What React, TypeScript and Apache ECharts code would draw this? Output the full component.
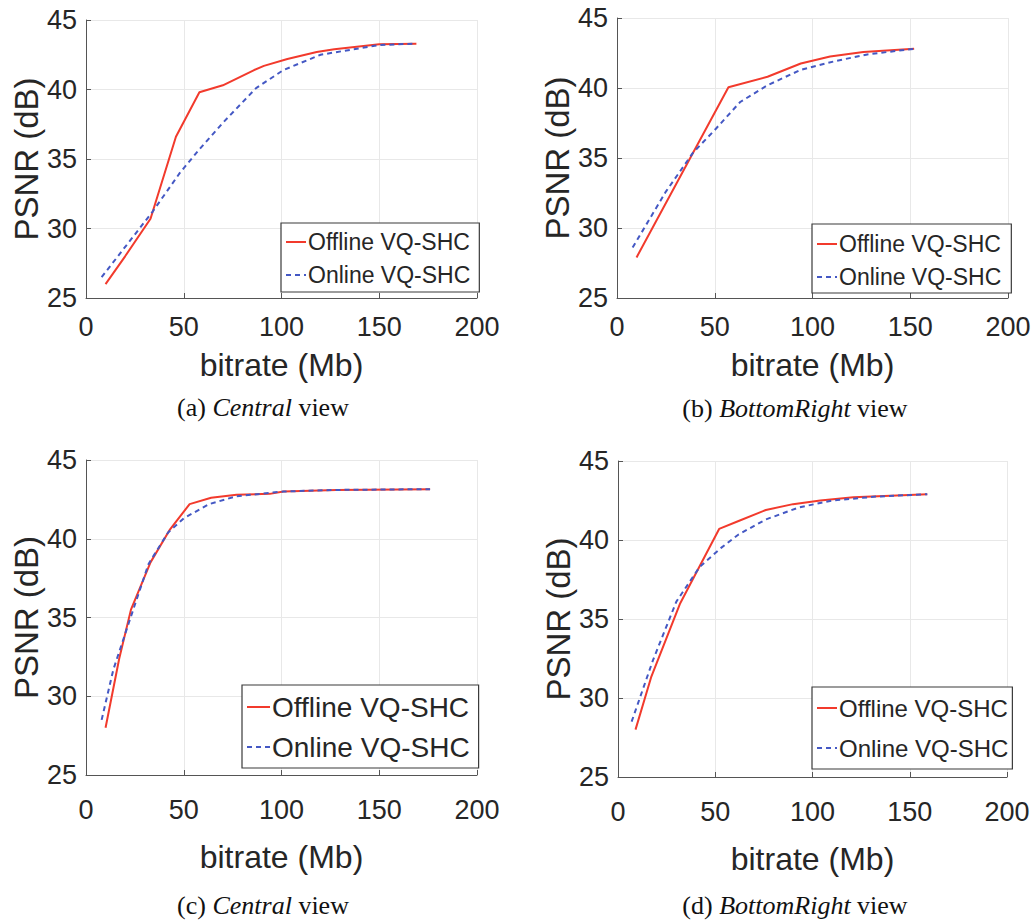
import React, { useEffect, useRef } from "react";
import * as echarts from "echarts";

// ---- data ----
const xTicks = [0, 50, 100, 150, 200];
const yTicks = [25, 30, 35, 40, 45];
const seriesNames = ["Offline VQ-SHC", "Online VQ-SHC"];
const captions = ["(a) {i|Central} view", "(b) {i|BottomRight} view", "(c) {i|Central} view", "(d) {i|BottomRight} view"];

// (a) Central view
const offA_x = [10, 20, 33, 46, 58, 70, 86, 91, 103, 118, 127, 150, 169];
const offA_y = [26.0, 28.0, 30.7, 36.6, 39.8, 40.3, 41.4, 41.7, 42.2, 42.7, 42.9, 43.25, 43.3];
const onA_x = [8, 34, 48, 58, 70, 87, 101, 120, 150, 169];
const onA_y = [26.5, 31.2, 34.0, 35.7, 37.6, 40.1, 41.4, 42.5, 43.2, 43.3];

// (b) BottomRight view
const offB_x = [10, 57, 77, 94, 109, 126, 152];
const offB_y = [27.9, 40.05, 40.8, 41.75, 42.25, 42.57, 42.8];
const onB_x = [8, 25, 39, 50, 63, 77, 94, 111, 128, 152];
const onB_y = [28.6, 32.6, 35.4, 37.0, 39.0, 40.2, 41.3, 41.9, 42.4, 42.8];

// (c) Central view
const offC_x = [10, 17, 23, 33, 43, 53, 64, 77, 94, 101, 128, 176];
const offC_y = [28.0, 32.4, 35.5, 38.5, 40.6, 42.2, 42.6, 42.8, 42.85, 43.0, 43.1, 43.15];
const onC_x = [8, 14, 22, 32, 42, 50, 63, 77, 101, 128, 176];
const onC_y = [28.5, 31.7, 34.7, 38.4, 40.4, 41.3, 42.2, 42.7, 43.0, 43.1, 43.15];

// (d) BottomRight view
const offD_x = [9, 17, 32, 52, 62, 76, 90, 104, 121, 159];
const offD_y = [28.0, 31.3, 36.0, 40.7, 41.2, 41.9, 42.27, 42.5, 42.7, 42.9];
const onD_x = [7, 18, 30, 42, 53, 62, 76, 93, 110, 133, 159];
const onD_y = [28.5, 32.4, 36.1, 38.3, 39.5, 40.35, 41.3, 42.06, 42.5, 42.75, 42.9];

const zip = (xs: number[], ys: number[]) => xs.map((x, i) => [x, ys[i]]);

const panels = [
  { off: zip(offA_x, offA_y), on: zip(onA_x, onA_y) },
  { off: zip(offB_x, offB_y), on: zip(onB_x, onB_y) },
  { off: zip(offC_x, offC_y), on: zip(onC_x, onC_y) },
  { off: zip(offD_x, offD_y), on: zip(onD_x, onD_y) },
];

// ---- layout ----
const grids = [
  { left: 86, top: 20, width: 391, height: 278 },
  { left: 617, top: 18, width: 391, height: 280 },
  { left: 86, top: 460, width: 391, height: 315 },
  { left: 618, top: 461, width: 389, height: 316 },
];
const xLabelMargin = [15, 15, 21, 21];
const xNameGap = [51, 51, 66, 66];
const legendCfg = [
  { left: 281, top: 223, font: 23, lh: 24, gap: 9, pad: [7, 9, 5, 4], iw: 20 },
  { left: 812, top: 224, font: 23, lh: 24, gap: 9, pad: [8, 10, 4, 4], iw: 20 },
  { left: 242, top: 685, font: 28, lh: 30, gap: 10, pad: [7, 9, 6, 4], iw: 23 },
  { left: 812, top: 687, font: 24, lh: 28, gap: 12, pad: [7, 4, 7, 4], iw: 20 },
];
const captionPos = [
  { x: 263, y: 407 },
  { x: 795, y: 408 },
  { x: 263, y: 905 },
  { x: 795, y: 905 },
];

const RED = "#f23a2c";
const BLUE = "#4458c4";
const AXIS = "#555555";
const TEXT = "#262626";
const SANS = "Liberation Sans, Arial, sans-serif";
const SERIF = "'Liberation Serif', 'Times New Roman', serif";

export default function App() {
  const ref = useRef<HTMLDivElement>(null);
  useEffect(() => {
    if (!ref.current) return;
    const chart = echarts.init(ref.current, undefined, { renderer: "svg" });
    const option: any = {
      animation: false,
      backgroundColor: "#ffffff",
      grid: grids.map((g) => ({ ...g, containLabel: false })),
      xAxis: grids.map((_, i) => ({
        type: "value",
        gridIndex: i,
        min: xTicks[0],
        max: xTicks[xTicks.length - 1],
        interval: 50,
        name: "bitrate (Mb)",
        nameLocation: "middle",
        nameGap: xNameGap[i],
        nameTextStyle: { fontFamily: SANS, fontSize: 32, color: TEXT },
        axisLine: { show: true, onZero: false, lineStyle: { color: AXIS, width: 1 } },
        axisTick: { show: true, inside: true, length: 5, lineStyle: { color: AXIS } },
        axisLabel: { fontFamily: SANS, fontSize: 27, color: TEXT, margin: xLabelMargin[i] },
        splitLine: { show: true, lineStyle: { color: "#e8e8e8", width: 1 } },
      })),
      yAxis: grids.map((_, i) => ({
        type: "value",
        gridIndex: i,
        min: yTicks[0],
        max: yTicks[yTicks.length - 1],
        interval: 5,
        name: "PSNR (dB)",
        nameLocation: "middle",
        nameGap: 41,
        nameTextStyle: { fontFamily: SANS, fontSize: 33, color: TEXT },
        axisLine: { show: true, onZero: false, lineStyle: { color: AXIS, width: 1 } },
        axisTick: { show: true, inside: true, length: 5, lineStyle: { color: AXIS } },
        axisLabel: { fontFamily: SANS, fontSize: 27, color: TEXT, margin: 9 },
        splitLine: { show: true, lineStyle: { color: "#e8e8e8", width: 1 } },
      })),
      legend: legendCfg.map((l) => ({
        orient: "vertical",
        left: l.left,
        top: l.top,
        data: seriesNames,
        itemWidth: l.iw,
        itemHeight: 12,
        itemGap: l.gap,
        padding: l.pad,
        borderColor: "#3a3a3a",
        borderWidth: 1.2,
        borderRadius: 0,
        backgroundColor: "#ffffff",
        selectedMode: false,
        itemStyle: { opacity: 0 },
        textStyle: { fontFamily: SANS, fontSize: l.font, color: TEXT, lineHeight: l.lh, padding: [0, 0, 0, -3] },
      })),
      series: panels.flatMap((p, i) => [
        {
          name: seriesNames[0],
          type: "line",
          xAxisIndex: i,
          yAxisIndex: i,
          data: p.off,
          symbol: "none",
          z: 3,
          lineStyle: { color: RED, width: 2, type: "solid" },
          itemStyle: { color: RED },
        },
        {
          name: seriesNames[1],
          type: "line",
          xAxisIndex: i,
          yAxisIndex: i,
          data: p.on,
          symbol: "none",
          z: 4,
          lineStyle: { color: BLUE, width: 2, type: [5, 4] },
          itemStyle: { color: BLUE },
        },
      ]),
      graphic: captions.map((c, i) => ({
        type: "text",
        x: captionPos[i].x,
        y: captionPos[i].y,
        style: {
          text: c,
          fill: "#111111",
          font: "26px " + SERIF,
          align: "center",
          verticalAlign: "middle",
          rich: {
            i: { fontStyle: "italic", fontSize: 26, fontFamily: SERIF, fill: "#111111" },
          },
        },
      })),
    };
    chart.setOption(option);
    return () => chart.dispose();
  }, []);
  return (
    <div
      ref={ref}
      style={{ position: "absolute", left: 0, top: 0, width: 1035, height: 920 }}
    />
  );
}
